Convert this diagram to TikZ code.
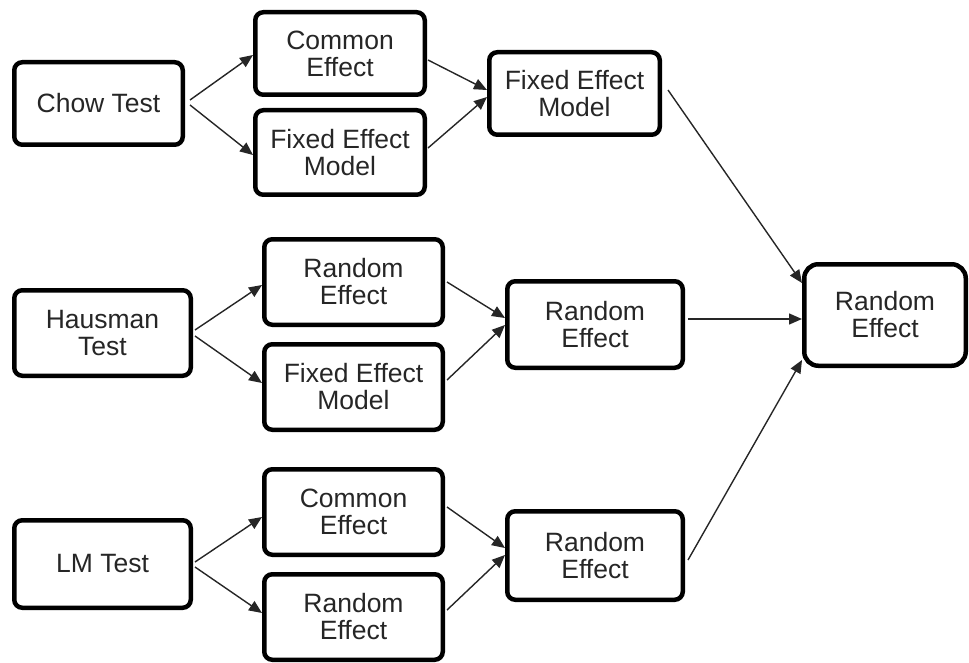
\documentclass[tikz,border=0pt]{standalone}
\usepackage{fontspec}
\setmainfont{Liberation Sans}
\usetikzlibrary{arrows.meta}
\definecolor{txt}{HTML}{262626}
\tikzset{
  box/.style={draw=black, line width=4.5pt, rounded corners=8pt, fill=white,
    align=center, inner sep=0pt, text=txt,
    font=\fontsize{26.5}{27}\selectfont},
  arr/.style={draw=black!85, line width=1.4pt, -{Triangle[length=13pt,width=11pt]}},
}
\begin{document}
\begin{tikzpicture}[x=1pt,y=-1pt]
\useasboundingbox (0,0) rectangle (969,663);
% boxes (min size = outer size - line width)
\node[box, minimum width=168.5pt, minimum height=82.5pt] (chow) at (98.5,103.5) {Chow Test};
\node[box, minimum width=169.5pt, minimum height=82.5pt] (ce1) at (340,53.5) {Common\\Effect};
\node[box, minimum width=169.5pt, minimum height=84.5pt] (fem1) at (340,152.5) {Fixed Effect\\Model};
\node[box, minimum width=170.5pt, minimum height=82.5pt] (femr) at (574.5,93.5) {Fixed Effect\\Model};

\node[box, minimum width=176.5pt, minimum height=85.5pt] (haus) at (102.5,333) {Hausman\\Test};
\node[box, minimum width=178.5pt, minimum height=85.5pt] (re2) at (353.5,282) {Random\\Effect};
\node[box, minimum width=178.5pt, minimum height=85.5pt] (fem2) at (353.5,387) {Fixed Effect\\Model};
\node[box, minimum width=175.5pt, minimum height=86.5pt] (remid) at (595,324.5) {Random\\Effect};

\node[box, minimum width=161.5pt, minimum height=101.5pt, rounded corners=14pt] (final) at (885,315) {Random\\Effect};

\node[box, minimum width=176.5pt, minimum height=87.5pt] (lm) at (102.5,564) {LM Test};
\node[box, minimum width=178.5pt, minimum height=85.5pt] (ce3) at (353.5,512) {Common\\Effect};
\node[box, minimum width=178.5pt, minimum height=85.5pt] (re3) at (353.5,617) {Random\\Effect};
\node[box, minimum width=175.5pt, minimum height=88.5pt] (rebot) at (595,555.5) {Random\\Effect};

% connectors
\draw[arr] ([xshift=5pt,yshift=3.5pt]chow.east) -- ([yshift=-1.5pt]ce1.west);
\draw[arr] ([xshift=5pt,yshift=-1.5pt]chow.east) -- ([yshift=-2.5pt]fem1.west);
\draw[arr] ([xshift=1pt,yshift=-6.5pt]ce1.east) -- ([yshift=3.5pt]femr.west);
\draw[arr] ([xshift=1pt,yshift=4.5pt]fem1.east) -- ([yshift=-3.5pt]femr.west);
\draw[arr] ([xshift=6pt,yshift=3.5pt]femr.east) -- ([yshift=32pt]final.west);

\draw[arr] ([xshift=2pt,yshift=3pt]haus.east) -- ([yshift=-3pt]re2.west);
\draw[arr] ([xshift=2pt,yshift=-3pt]haus.east) -- ([yshift=4pt]fem2.west);
\draw[arr] ([xshift=2pt]re2.east) -- ([yshift=6.5pt]remid.west);
\draw[arr] ([xshift=2pt,yshift=7pt]fem2.east) -- ([yshift=-0.5pt]remid.west);
\draw[arr] ([xshift=3pt,yshift=5.5pt]remid.east) -- ([yshift=-4pt]final.west);
\draw[arr] ([xshift=3pt,yshift=-4.5pt]rebot.east) -- ([yshift=-45pt]final.west);

\draw[arr] ([xshift=2pt,yshift=2pt]lm.east) -- ([yshift=-5pt]ce3.west);
\draw[arr] ([xshift=2pt,yshift=-3pt]lm.east) -- ([yshift=4pt]re3.west);
\draw[arr] ([xshift=2pt,yshift=5pt]ce3.east) -- ([yshift=7.5pt]rebot.west);
\draw[arr] ([xshift=2pt,yshift=7pt]re3.east) -- ([yshift=0.5pt]rebot.west);
\end{tikzpicture}
\end{document}
